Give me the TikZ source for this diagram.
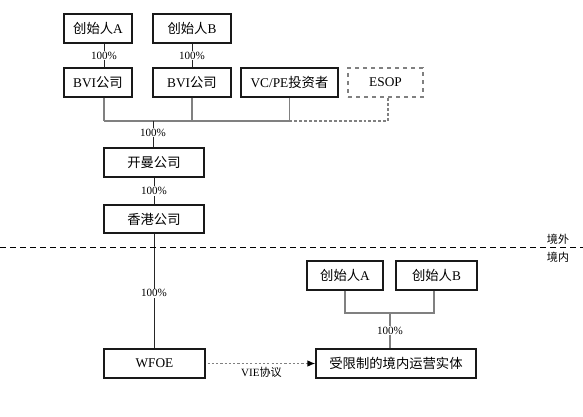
\documentclass[tikz,border=0pt]{standalone}
\usepackage{fontspec}
\setmainfont{Liberation Serif}
\newfontfamily\cjk{Noto Sans CJK SC}
\usetikzlibrary{arrows.meta}
\begin{document}
\begin{tikzpicture}[x=0.75pt,y=-0.75pt,
  box/.style={draw=black!90, line width=0.9pt, minimum height=21.75pt, inner sep=0pt, font=\fontsize{10}{12}\selectfont},
  esopbox/.style={box, draw=gray, dashed},
  lab/.style={fill=white, inner sep=0.6pt, font=\fontsize{8.3}{9}\selectfont},
  thinline/.style={draw=black!85, line width=0.75pt},
  bus/.style={draw=gray, line width=1.3pt},
  busd/.style={draw=gray, line width=1pt, dash pattern=on 2.2pt off 1.5pt},
  divider/.style={draw=black, line width=0.8pt, dash pattern=on 4.5pt off 3pt},
  side/.style={font=\fontsize{8.3}{9}\selectfont\cjk, inner sep=0pt},
  viearrow/.style={draw=gray, line width=1.1pt, dash pattern=on 1.6pt off 1.6pt, -{Latex[color=black, length=6pt, width=5pt]}}
]
\useasboundingbox (0,0) rectangle (583,417);

% offshore boxes
\node[box, minimum width=51pt] (fA) at (98,28.5) {{\cjk 创始人}A};
\node[box, minimum width=58.5pt] (fB) at (192,28.5) {{\cjk 创始人}B};
\node[box, minimum width=51pt] (bvi1) at (98,82.5) {BVI{\cjk 公司}};
\node[box, minimum width=58.5pt] (bvi2) at (192,82.5) {BVI{\cjk 公司}};
\node[box, minimum width=72.75pt] (vc) at (289.5,82.5) {VC/PE{\cjk 投资者}};
\node[esopbox, minimum width=56.25pt] (esop) at (385.5,82.5) {ESOP};
\node[box, minimum width=75pt] (km) at (154,162.5) {\cjk 开曼公司};
\node[box, minimum width=75pt, minimum height=21pt] (hk) at (154,219) {\cjk 香港公司};

% onshore boxes
\node[box, minimum width=75.75pt] (wfoe) at (154.5,363.5) {WFOE};
\node[box, minimum width=57pt] (fA2) at (345,275.5) {{\cjk 创始人}A};
\node[box, minimum width=60.75pt] (fB2) at (436.5,275.5) {{\cjk 创始人}B};
\node[box, minimum width=120pt] (ent) at (396,363.5) {\cjk 受限制的境内运营实体};

% junctions
\coordinate (j1) at (104,121);
\coordinate (j2) at (192,121);
\coordinate (j3) at (289.5,121);
\coordinate (j4) at (388,121);
\coordinate (jm) at (153,121);
\coordinate (b1) at (345,313);
\coordinate (b2) at (434,313);
\coordinate (b3) at (390,313);

% founders to BVI
\draw[thinline] (fA.south -| j1) -- node[lab]{100\%} (bvi1.north -| j1);
\draw[thinline] (fB.south) -- node[lab]{100\%} (bvi2.north);

% shareholders bus
\draw[bus] (bvi1.south -| j1) -- (j1);
\draw[bus] (bvi2.south) -- (j2);
\draw[bus] (vc.south) -- (j3);
\draw[bus] (j1) -- (j3);
\draw[busd] (j3) -- (j4) -- (esop.south -| j4);

\draw[thinline] (jm) -- node[lab, pos=0.45]{100\%} (km.north -| jm);
\draw[thinline] (km.south) -- node[lab]{100\%} (hk.south |- hk.north);
\draw[thinline] (hk.south) -- node[lab, pos=0.52]{100\%} (wfoe.north -| hk.south);

% divider
\coordinate (dl) at (0,247.5);
\coordinate (dr) at (583,247.5);
\draw[divider] (dl) -- (dr);
\node[side] (out) at (558,239.5) {境外};
\node[side] (in) at (558,257) {境内};

% onshore founders
\draw[bus] (fA2.south -| b1) -- (b1) -- (b2) -- (fB2.south -| b2);
\draw[bus] (b3) -- node[lab]{100\%} (ent.north -| b3);

% VIE
\draw[viearrow] ([xshift=1.5pt]wfoe.east) -- node[below=2pt, inner sep=0pt, font=\fontsize{8.3}{9}\selectfont]{VIE{\cjk 协议}} (ent.west);
\end{tikzpicture}
\end{document}
